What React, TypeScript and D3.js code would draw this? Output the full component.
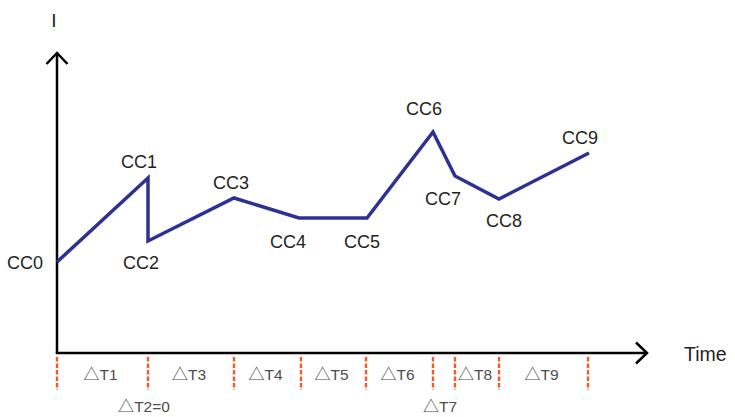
import React from "react";
import * as d3 from "d3";

// ---- data ----
const pointNames = ["CC0", "CC1", "CC2", "CC3", "CC4", "CC5", "CC6", "CC7", "CC8", "CC9"];
const pointTimes = [0, 9.1, 9.1, 17.7, 24.2, 31.0, 37.6, 39.8, 44.2, 53.2];
const pointCurrents = [9.1, 17.5, 11.2, 15.5, 13.5, 13.5, 22.1, 17.7, 15.4, 20.0];

const intervalBounds = [0, 9.1, 17.7, 24.4, 30.9, 37.6, 39.8, 44.2, 53.1];
const intervalNames = ["T1", "T3", "T4", "T5", "T6", "T8", "T9"];
const intervalStart = [0, 1, 2, 3, 4, 6, 7]; // index into intervalBounds
const zeroIntervalNames = ["T2=0", "T7"];
const zeroIntervalPos = [9.1, 38.7];
const deltaSymbol = "△";

const axisLabels = { y: "I", x: "Time" };

// label placement (pixel offsets from point)
const labelOffsets: [number, number, string][] = [
  [-14, 7, "end"],
  [-9, -10, "middle"],
  [-7, 28, "middle"],
  [-3, -9, "middle"],
  [-11, 30, "middle"],
  [-5, 30, "middle"],
  [-9, -17, "middle"],
  [-12, 29, "middle"],
  [5, 28, "middle"],
  [-9, -9, "middle"],
];

const cjk = "'Noto Sans CJK SC', 'DejaVu Sans', sans-serif";

function DeltaLabel({ x, y, name }: { x: number; y: number; name: string }) {
  return (
    <text x={x} y={y} fontSize={15.5} textAnchor="middle" fill="#4d4d4d">
      <tspan fontFamily={cjk} fontSize={16}>
        {deltaSymbol}
      </tspan>
      <tspan>{name}</tspan>
    </text>
  );
}

export default function App() {
  const W = 735;
  const H = 417;
  const x0 = 57;
  const y0 = 353;
  const x = d3.scaleLinear().domain([0, 59]).range([x0, 647]);
  const y = d3.scaleLinear().domain([0, 30]).range([y0, 53]);

  const pts = pointTimes.map((t, i) => [x(t), y(pointCurrents[i])] as [number, number]);
  const line = d3.line<[number, number]>().x((d) => d[0]).y((d) => d[1]);

  const font = "'Liberation Sans', Arial, Helvetica, sans-serif";
  const axisTop = y(30);
  const axisRight = x(59);

  return (
    <svg
      width={W}
      height={H}
      style={{ position: "absolute", left: 0, top: 0, background: "#fff" }}
      fontFamily={font}
    >
      {/* axes */}
      <line x1={x0} y1={y0} x2={x0} y2={axisTop} stroke="#000" strokeWidth={2.5} />
      <line x1={x0 - 1.2} y1={y0} x2={axisRight} y2={y0} stroke="#000" strokeWidth={2.5} />
      <polyline
        points={`${x0 - 10.5},${axisTop + 11} ${x0},${axisTop} ${x0 + 10.5},${axisTop + 11}`}
        fill="none"
        stroke="#000"
        strokeWidth={2.5}
      />
      <polyline
        points={`${axisRight - 11},${y0 - 10.5} ${axisRight},${y0} ${axisRight - 11},${y0 + 10.5}`}
        fill="none"
        stroke="#000"
        strokeWidth={2.5}
      />
      <text x={54} y={27} fontSize={19} textAnchor="middle" fill="#231f20">
        {axisLabels.y}
      </text>
      <text x={684} y={361} fontSize={19.5} fill="#231f20">
        {axisLabels.x}
      </text>

      {/* interval dashed markers */}
      {intervalBounds.map((t, i) => (
        <line
          key={"b" + i}
          x1={x(t)}
          x2={x(t)}
          y1={357}
          y2={390}
          stroke="#f15a29"
          strokeWidth={2.4}
          strokeDasharray="4.5 2"
        />
      ))}
      {intervalNames.map((n, i) => {
        const a = intervalBounds[intervalStart[i]];
        const b = intervalBounds[intervalStart[i] + 1];
        return <DeltaLabel key={"in" + i} x={(x(a) + x(b)) / 2 - 2} y={380} name={n} />;
      })}
      {zeroIntervalNames.map((n, i) => (
        <DeltaLabel key={"z" + i} x={x(zeroIntervalPos[i]) - 4} y={412} name={n} />
      ))}

      {/* current profile */}
      <path
        d={line(pts) || ""}
        fill="none"
        stroke="#2e3192"
        strokeWidth={3.5}
        strokeLinejoin="miter"
      />

      {pointNames.map((n, i) => (
        <text
          key={n}
          x={pts[i][0] + labelOffsets[i][0]}
          y={pts[i][1] + labelOffsets[i][1]}
          fontSize={18}
          textAnchor={labelOffsets[i][2] as any}
          fill="#231f20"
        >
          {n}
        </text>
      ))}
    </svg>
  );
}
